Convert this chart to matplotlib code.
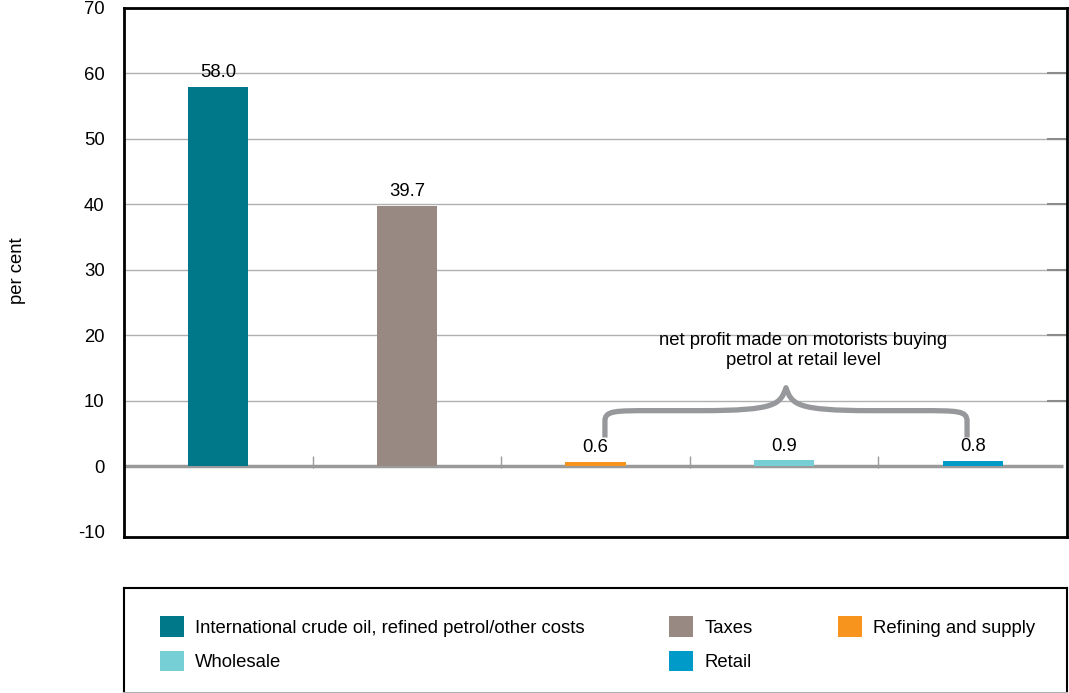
import matplotlib
matplotlib.use("Agg")
import matplotlib.pyplot as plt
from matplotlib.patches import Patch, PathPatch
from matplotlib.path import Path

plt.rcParams["font.family"] = ["Liberation Sans", "DejaVu Sans"]
plt.rcParams["axes.unicode_minus"] = False

# ---- data ------------------------------------------------------------------
categories = [
    "International crude oil, refined petrol/other costs",
    "Taxes",
    "Refining and supply",
    "Wholesale",
    "Retail",
]
values = [58.0, 39.7, 0.6, 0.9, 0.8]
value_labels = ["58.0", "39.7", "0.6", "0.9", "0.8"]
colors = ["#00788a", "#988a82", "#f7941d", "#76cfd4", "#009ac8"]
yticks = [-10, 0, 10, 20, 30, 40, 50, 60, 70]
note = "net profit made on motorists buying\npetrol at retail level"

FS = 13.3

# ---- figure ----------------------------------------------------------------
fig = plt.figure(figsize=(10.69, 6.93), dpi=100)
ax = fig.add_axes([124 / 1069, 1 - 537 / 693, 943 / 1069, 529 / 693])

x = list(range(len(values)))
ax.bar(x, values, width=0.32, color=colors, zorder=3)
for xi, v, lab in zip(x, values, value_labels):
    ax.text(xi, v + 0.9, lab, ha="center", va="bottom", fontsize=FS, zorder=4)

ax.set_xlim(-0.5, len(values) - 0.5)
ax.set_ylim(-10.8, 70.0)
ax.set_yticks(yticks)
ax.set_xticks([])
ax.tick_params(axis="y", labelsize=FS, length=0, pad=14)

# gridlines with a darker stub at the right edge
ytrans = ax.get_yaxis_transform()
for yv in yticks[2:-1]:
    ax.axhline(yv, color="#b0b0b0", lw=1, zorder=1)
    ax.plot([1 - 20 / 943, 1], [yv, yv], transform=ytrans, color="#8c8c8c",
            lw=1.5, zorder=2, solid_capstyle="butt")
ax.plot([-0.5, len(values) - 0.52], [0, 0], color="#9a9a9a", lw=2.5, zorder=2,
        solid_capstyle="butt")
ax.vlines([i + 0.5 for i in range(len(values) - 1)], -0.3, 1.6,
          color="#9a9a9a", lw=1, zorder=2)
for s in ax.spines.values():
    s.set_color("black")
    s.set_linewidth(2)

fig.text(18 / 1069, 1 - 271 / 693, "per cent", rotation=90, ha="center",
         va="center", fontsize=FS)

# ---- brace over the margin bars ---------------------------------------------
xl, xr, xm = 2.05, 3.97, 3.01
yb, yh, yt = 4.4, 8.5, 12.0
verts = [
    (xl, yb), (xl, yh - 1.6),
    (xl, yh), (xl + 0.05, yh), (xl + 0.25, yh),
    (xm - 0.45, yh),
    (xm - 0.05, yh), (xm - 0.03, yh + 1.0), (xm, yt),
    (xm + 0.03, yh + 1.0), (xm + 0.05, yh), (xm + 0.45, yh),
    (xr - 0.25, yh),
    (xr - 0.05, yh), (xr, yh), (xr, yh - 1.6),
    (xr, yb),
]
codes = [Path.MOVETO, Path.LINETO,
         Path.CURVE4, Path.CURVE4, Path.CURVE4,
         Path.LINETO,
         Path.CURVE4, Path.CURVE4, Path.CURVE4,
         Path.CURVE4, Path.CURVE4, Path.CURVE4,
         Path.LINETO,
         Path.CURVE4, Path.CURVE4, Path.CURVE4,
         Path.LINETO]
ax.add_patch(PathPatch(Path(verts, codes), fill=False, edgecolor="#97989b",
                       lw=3.8, capstyle="butt", joinstyle="round", zorder=4))
ax.text(3.1, 14.8, note, ha="center", va="bottom", fontsize=FS,
        linespacing=1.25, zorder=4)

# ---- legend box --------------------------------------------------------------
lax = fig.add_axes([124 / 1069, 0, 943 / 1069, 105 / 693])
lax.set_xticks([])
lax.set_yticks([])
for s in lax.spines.values():
    s.set_color("black")
    s.set_linewidth(1.5)
lax.spines["bottom"].set_color("#b0b0b0")
order = [0, 3, 1, 4, 2]
handles = [Patch(facecolor=colors[i], edgecolor="none") for i in order]
labels = [categories[i] for i in order]
lax.legend(handles, labels, ncol=3, loc="center left",
           bbox_to_anchor=(0.028, 0.47), frameon=False, fontsize=FS,
           handlelength=1.3, handleheight=1.3, handletextpad=0.6,
           columnspacing=4.6, labelspacing=0.75, borderpad=0)

plt.savefig("out.png", dpi=100)
